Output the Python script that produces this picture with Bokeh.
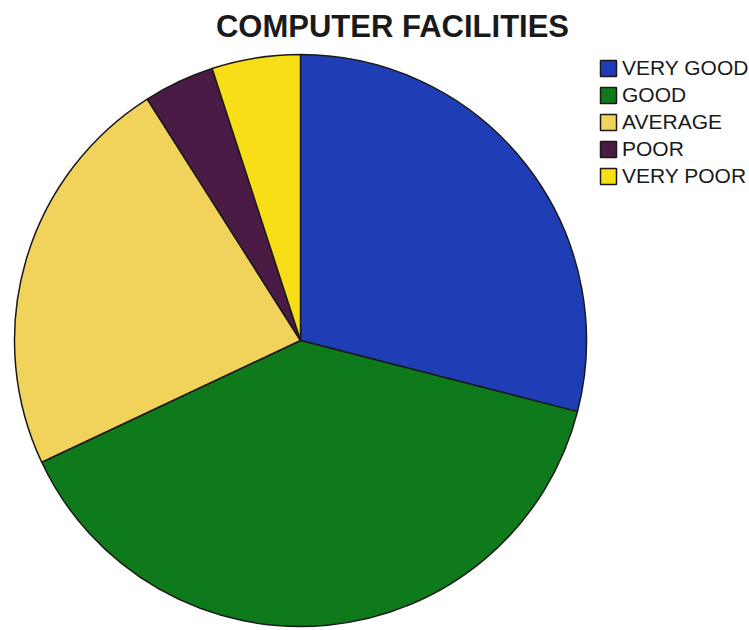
import numpy as np
from bokeh.plotting import figure
from bokeh.models import Range1d, Legend, LegendItem
from bokeh.core.properties import value
from bokeh.embed import file_html
from bokeh.resources import INLINE

categories = ["VERY GOOD", "GOOD", "AVERAGE", "POOR", "VERY POOR"]
values = [29, 39, 23, 4, 5]
colors = ["#1f3db5", "#0f7a1c", "#f1d35c", "#4a1b44", "#f8de16"]
title_text = "COMPUTER FACILITIES"

W, H = 749, 630
frac = np.array(values, dtype=float) / sum(values)
cum = np.concatenate([[0], np.cumsum(frac)])
# clockwise from 12 o'clock
start = np.pi / 2 - cum[1:] * 2 * np.pi
end = np.pi / 2 - cum[:-1] * 2 * np.pi

p = figure(width=W, height=H, output_backend="svg", toolbar_location=None,
           x_range=Range1d(0, W), y_range=Range1d(0, H), min_border=0)
p.axis.visible = False
p.grid.visible = False
p.outline_line_color = None
p.background_fill_color = "white"

cx, cy, r = 300, H - 340, 286
renderers = []
for i in range(len(categories)):
    rr = p.wedge(x=cx, y=cy, radius=r, start_angle=start[i], end_angle=end[i],
                 fill_color=colors[i], line_color="#1a1a1a", line_width=1.5)
    renderers.append(rr)

p.text(x=[392], y=[H - 26], text=[title_text], text_font=value("Liberation Sans"),
       text_font_style="bold", text_font_size="31px", text_align="center",
       text_baseline="alphabetic", text_color="#1a1a1a")

legend = Legend(items=[LegendItem(label=categories[i], renderers=[renderers[i]])
                       for i in range(len(categories))],
                location=(598, 442), padding=0, margin=0, spacing=3,
                glyph_width=20, glyph_height=20, label_height=20,
                label_standoff=4, label_text_font="Liberation Sans",
                label_text_font_size="21px", label_text_color="#1a1a1a",
                border_line_alpha=0, background_fill_alpha=0)
p.add_layout(legend, "center")

open("out.html", "w").write(file_html(p, INLINE))
